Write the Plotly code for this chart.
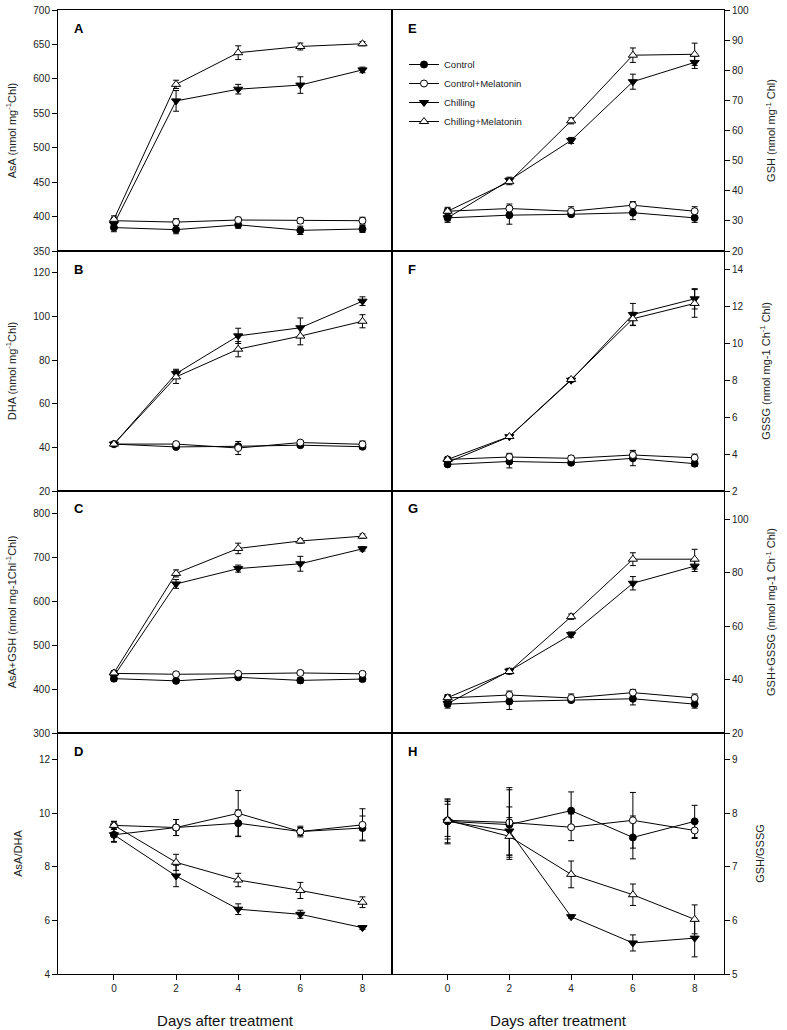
import plotly.graph_objects as go

days = [0, 2, 4, 6, 8]
day_ticks = ["0", "2", "4", "6", "8"]
series_names = ["Control", "Control+Melatonin", "Chilling", "Chilling+Melatonin"]

# Panel A: AsA
asa_control = [384, 381, 388, 380, 382]
asa_control_err = [6, 6, 5, 6, 5]
asa_cmel = [394, 392, 395, 394, 394]
asa_cmel_err = [5, 5, 4, 4, 5]
asa_chill = [389, 568, 585, 591, 613]
asa_chill_err = [5, 15, 7, 12, 4]
asa_chmel = [396, 592, 638, 647, 651]
asa_chmel_err = [5, 6, 10, 5, 3]

# Panel B: DHA
dha_control = [41.5, 40.2, 40.5, 41.0, 40.3]
dha_control_err = [0.8, 1.0, 1.0, 0.8, 1.0]
dha_cmel = [41.5, 41.5, 39.7, 42.2, 41.4]
dha_cmel_err = [0.8, 1.2, 3.0, 0.8, 1.5]
dha_chill = [41.5, 73.8, 91.1, 94.8, 107.0]
dha_chill_err = [0.8, 2.0, 3.5, 4.5, 2.0]
dha_chmel = [41.5, 72.3, 85.0, 91.0, 97.8]
dha_chmel_err = [0.8, 3.0, 3.5, 4.0, 3.0]

# Panel C: AsA+GSH
tot_control = [424, 419, 427, 420, 423]
tot_control_err = [6, 6, 5, 6, 5]
tot_cmel = [436, 434, 435, 437, 435]
tot_cmel_err = [5, 5, 4, 5, 5]
tot_chill = [430, 640, 675, 686, 720]
tot_chill_err = [5, 10, 8, 17, 5]
tot_chmel = [437, 664, 721, 738, 749]
tot_chmel_err = [5, 8, 12, 5, 5]

# Panel D: AsA/DHA
rat_control = [9.20, 9.47, 9.63, 9.32, 9.45]
rat_control_err = [0.28, 0.30, 0.50, 0.20, 0.45]
rat_cmel = [9.55, 9.47, 10.0, 9.32, 9.57]
rat_cmel_err = [0.15, 0.30, 0.85, 0.15, 0.60]
rat_chill = [9.20, 7.66, 6.42, 6.23, 5.73]
rat_chill_err = [0.25, 0.40, 0.20, 0.15, 0.07]
rat_chmel = [9.55, 8.17, 7.51, 7.12, 6.68]
rat_chmel_err = [0.15, 0.30, 0.25, 0.30, 0.20]

# Panel E: GSH
gsh_control = [31.0, 31.9, 32.2, 32.7, 31.0]
gsh_control_err = [1.5, 3.0, 0.7, 2.3, 1.5]
gsh_cmel = [33.2, 34.1, 33.2, 35.2, 33.2]
gsh_cmel_err = [1.3, 1.5, 1.5, 1.2, 1.5]
gsh_chill = [31.0, 43.5, 56.7, 76.2, 82.6]
gsh_chill_err = [1.0, 1.0, 1.0, 2.5, 2.0]
gsh_chmel = [33.2, 43.0, 63.2, 85.0, 85.3]
gsh_chmel_err = [0.8, 1.0, 1.0, 2.4, 3.7]

# Panel F: GSSG
gssg_control = [3.44, 3.60, 3.53, 3.77, 3.48]
gssg_control_err = [0.10, 0.35, 0.10, 0.40, 0.15]
gssg_cmel = [3.71, 3.84, 3.77, 3.95, 3.80]
gssg_cmel_err = [0.12, 0.20, 0.15, 0.25, 0.20]
gssg_chill = [3.55, 4.94, 8.00, 11.56, 12.41]
gssg_chill_err = [0.10, 0.08, 0.10, 0.60, 0.55]
gssg_chmel = [3.71, 4.95, 8.04, 11.33, 12.16]
gssg_chmel_err = [0.10, 0.08, 0.10, 0.35, 0.75]

# Panel G: GSH+GSSG
gt_control = [30.8, 31.8, 32.3, 32.8, 30.8]
gt_control_err = [1.5, 3.0, 0.7, 2.3, 1.5]
gt_cmel = [33.1, 34.2, 33.1, 35.1, 33.1]
gt_cmel_err = [1.3, 1.5, 1.5, 1.2, 1.5]
gt_chill = [31.0, 43.2, 56.8, 76.0, 82.4]
gt_chill_err = [1.0, 1.0, 1.0, 2.5, 2.0]
gt_chmel = [33.2, 43.0, 63.5, 85.0, 85.0]
gt_chmel_err = [0.8, 1.0, 1.0, 2.4, 3.7]

# Panel H: GSH/GSSG
gr_control = [7.85, 7.79, 8.05, 7.55, 7.85]
gr_control_err = [0.42, 0.65, 0.35, 0.40, 0.30]
gr_cmel = [7.87, 7.83, 7.74, 7.87, 7.68]
gr_cmel_err = [0.30, 0.65, 0.25, 0.52, 0.15]
gr_chill = [7.85, 7.67, 6.07, 5.58, 5.67]
gr_chill_err = [0.40, 0.45, 0.03, 0.15, 0.35]
gr_chmel = [7.87, 7.57, 6.86, 6.48, 6.02]
gr_chmel_err = [0.35, 0.35, 0.25, 0.20, 0.27]

panels = [
    # letter, data, ytitle, range, tickvals, side
    ("A", [(asa_control, asa_control_err), (asa_cmel, asa_cmel_err), (asa_chill, asa_chill_err), (asa_chmel, asa_chmel_err)],
     "AsA (nmol mg<sup>-1</sup>Chl)", [350, 700], [350, 400, 450, 500, 550, 600, 650, 700], "left"),
    ("B", [(dha_control, dha_control_err), (dha_cmel, dha_cmel_err), (dha_chill, dha_chill_err), (dha_chmel, dha_chmel_err)],
     "DHA (nmol mg<sup>-1</sup>Chl)", [20, 130], [20, 40, 60, 80, 100, 120], "left"),
    ("C", [(tot_control, tot_control_err), (tot_cmel, tot_cmel_err), (tot_chill, tot_chill_err), (tot_chmel, tot_chmel_err)],
     "AsA+GSH (nmol mg-1Chl<sup>-1</sup>Chl)", [300, 852], [300, 400, 500, 600, 700, 800], "left"),
    ("D", [(rat_control, rat_control_err), (rat_cmel, rat_cmel_err), (rat_chill, rat_chill_err), (rat_chmel, rat_chmel_err)],
     "AsA/DHA", [4, 13], [4, 6, 8, 10, 12], "left"),
    ("E", [(gsh_control, gsh_control_err), (gsh_cmel, gsh_cmel_err), (gsh_chill, gsh_chill_err), (gsh_chmel, gsh_chmel_err)],
     "GSH (nmol mg<sup>-1</sup> Chl)", [20, 100], [20, 30, 40, 50, 60, 70, 80, 90, 100], "right"),
    ("F", [(gssg_control, gssg_control_err), (gssg_cmel, gssg_cmel_err), (gssg_chill, gssg_chill_err), (gssg_chmel, gssg_chmel_err)],
     "GSSG (nmol mg-1 Ch<sup>-1</sup> Chl)", [2, 15], [2, 4, 6, 8, 10, 12, 14], "right"),
    ("G", [(gt_control, gt_control_err), (gt_cmel, gt_cmel_err), (gt_chill, gt_chill_err), (gt_chmel, gt_chmel_err)],
     "GSH+GSSG (nmol mg-1 Ch<sup>-1</sup> Chl)", [20, 110.5], [20, 40, 60, 80, 100], "right"),
    ("H", [(gr_control, gr_control_err), (gr_cmel, gr_cmel_err), (gr_chill, gr_chill_err), (gr_chmel, gr_chmel_err)],
     "GSH/GSSG", [5, 9.5], [5, 6, 7, 8, 9], "right"),
]

W, H = 787, 1030
col_px = {"left": (58, 392), "right": (392, 724)}
row_px = [(10, 251), (251, 491), (491, 733), (733, 974)]

markers = [
    dict(symbol="circle", size=7, color="black", line=dict(color="black", width=1)),
    dict(symbol="circle", size=7, color="white", line=dict(color="black", width=1)),
    dict(symbol="triangle-down", size=8, color="black", line=dict(color="black", width=1)),
    dict(symbol="triangle-up", size=8, color="white", line=dict(color="black", width=1)),
]

FONT = "Liberation Sans, Arial, sans-serif"
fig = go.Figure()
layout = dict(width=W, height=H, margin=dict(l=0, r=0, t=0, b=0),
              paper_bgcolor="white", plot_bgcolor="white",
              font=dict(family=FONT, color="#222", size=10),
              annotations=[])

for i, (letter, data, ytitle, yr, yt, side) in enumerate(panels):
    n = i + 1
    xs = "x" if n == 1 else f"x{n}"
    ys = "y" if n == 1 else f"y{n}"
    row = i % 4
    x0, x1 = col_px[side]
    r0, r1 = row_px[row]
    for k, (vals, errs) in enumerate(data):
        fig.add_trace(go.Scatter(
            x=days, y=vals, xaxis=xs, yaxis=ys, mode="lines+markers",
            name=series_names[k], showlegend=(letter == "E"),
            line=dict(color="black", width=1),
            marker=markers[k],
            error_y=dict(type="data", array=errs, visible=True, color="black", thickness=1, width=3),
        ))
    bottom = row == 3
    xa = dict(domain=[x0 / W, x1 / W], anchor=ys, range=[-1.8, 8.95],
              tickvals=days, ticktext=day_ticks, showticklabels=bottom,
              ticks="outside" if bottom else "", ticklen=5, tickcolor="black",
              showline=True, linecolor="black", linewidth=1, mirror=True,
              showgrid=False, zeroline=False, tickfont=dict(size=10), automargin=False)
    if bottom:
        xa["title"] = dict(text="Days after treatment", font=dict(size=15, color="#111"), standoff=22)
    ya = dict(domain=[1 - r1 / H, 1 - r0 / H], anchor=xs, range=yr, tickvals=yt,
              side=side, ticks="outside", ticklen=5, tickcolor="black",
              showline=True, linecolor="black", linewidth=1, mirror=True,
              showgrid=False, zeroline=False, tickfont=dict(size=10), automargin=False,
              title=dict(text=ytitle, font=dict(size=11), standoff=14 if side == "left" else 19))
    layout["xaxis" if n == 1 else f"xaxis{n}"] = xa
    layout["yaxis" if n == 1 else f"yaxis{n}"] = ya
    layout["annotations"].append(dict(
        text=f"<b>{letter}</b>", xref="paper", yref="paper",
        x=(x0 + 14) / W, y=1 - (r0 + 18) / H, xanchor="left", yanchor="middle",
        showarrow=False, font=dict(size=13, color="black")))

layout["legend"] = dict(x=404 / W, y=1 - 50 / H, xanchor="left", yanchor="top",
                        bgcolor="rgba(0,0,0,0)", font=dict(size=9.5, color="#222"),
                        itemwidth=30, tracegroupgap=0)
fig.update_layout(**layout)
fig.write_html("out.html", config={"displayModeBar": False},
               post_script="document.body.style.margin='0';document.body.style.padding='0';")
